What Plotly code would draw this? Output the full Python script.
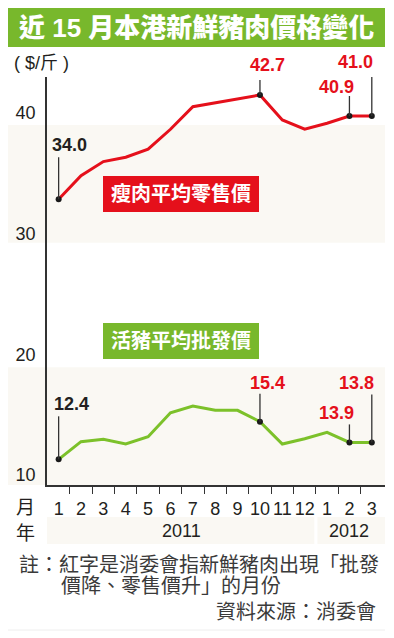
import plotly.graph_objects as go

# ---- data ----
months = ["1", "2", "3", "4", "5", "6", "7", "8", "9", "10", "11", "12", "1", "2", "3"]
years = ["2011", "2012"]
retail_lean = [32.85, 34.8, 35.97, 36.33, 37.0, 38.65, 40.52, 40.85, 41.16, 41.49,
               39.42, 38.65, 39.15, 39.75, 39.75]
wholesale_live = [11.3, 12.76, 12.96, 12.57, 13.17, 15.16, 15.72, 15.36, 15.36, 14.42,
                  12.57, 13.0, 13.54, 12.7, 12.7]
retail_labels = {0: "34.0", 9: "42.7", 13: "40.9", 14: "41.0"}
wholesale_labels = {0: "12.4", 9: "15.4", 13: "13.9", 14: "13.8"}
black_label_idx = [0]
yticks = [10, 20, 30, 40]

RED = "#e5101b"
GREEN_LINE = "#7cc12a"
GREEN_BAR = "#78b82c"
BEIGE = "#faf8f3"
DARK = "#231f20"
FONT = "Liberation Sans, Arial, Noto Sans CJK TC, sans-serif"

OFF = 8                      # page body margin
W, H = 394 - OFF, 638 - OFF  # figure size
L, R, T, B = 47, 385, 77, 485  # plot area in page pixels


def px(x):
    return (x - L) / (R - L)


def py(y):
    return (B - y) / (B - T)


x = list(range(len(months)))

fig = go.Figure()
fig.add_trace(go.Scatter(x=x, y=retail_lean, mode="lines",
                         line=dict(color=RED, width=3), hoverinfo="skip"))
fig.add_trace(go.Scatter(x=x, y=wholesale_live, mode="lines",
                         line=dict(color=GREEN_LINE, width=3), hoverinfo="skip"))

shapes = []
annotations = []


def note(text, xx, yy, size, color, xanchor="center", xref="paper", yref="paper",
         weight=None, **kw):
    f = dict(family=FONT, size=size, color=color)
    if weight:
        f["weight"] = weight
    annotations.append(dict(text=text, xref=xref, yref=yref, x=xx, y=yy, showarrow=False,
                            xanchor=xanchor, yanchor="middle", font=f, **kw))


# background bands
shapes.append(dict(type="rect", xref="paper", yref="y", x0=px(8), x1=1, y0=29.25, y1=39.0,
                   fillcolor=BEIGE, line_width=0, layer="below"))
shapes.append(dict(type="rect", xref="paper", yref="y", x0=px(8), x1=1, y0=9.171, y1=18.92,
                   fillcolor=BEIGE, line_width=0, layer="below"))

# title bar
shapes.append(dict(type="rect", xref="paper", yref="paper", x0=px(8), x1=px(385),
                   y0=py(47), y1=py(8), fillcolor=GREEN_BAR, line_width=0))
note("近 15 月本港新鮮豬肉價格變化", px(196), py(28), 26, "white", weight=900)
note("( $/斤 )", px(12), py(63), 18, DARK, xanchor="left")

# series label boxes
for (txt, col, yc) in [("瘦肉平均零售價", RED, 194), ("活豬平均批發價", GREEN_BAR, 341)]:
    shapes.append(dict(type="rect", xref="paper", yref="paper", x0=px(103), x1=px(259),
                       y0=py(yc + 18), y1=py(yc - 18), fillcolor=col, line_width=0))
    note("<b>" + txt + "</b>", px(181), py(yc), 20, "white")

# value labels, leader lines, dots
offsets_r = {0: (11, 54, 42), 9: (8, 30, 15), 13: (-13, 29, 20), 14: (-16, 54, 43)}
offsets_g = {0: (13, 55, 43), 9: (8, 39, 28), 13: (-13, 29, 18), 14: (-15, 59, 48)}
dot_x, dot_y = [], []
for series, labels, offs in [(retail_lean, retail_labels, offsets_r),
                             (wholesale_live, wholesale_labels, offsets_g)]:
    for i, txt in labels.items():
        dx, dy, ln = offs[i]
        col = DARK if i in black_label_idx else RED
        note("<b>" + txt + "</b>", i, series[i], 18, col, xref="x", yref="y",
             xshift=dx, yshift=dy)
        shapes.append(dict(type="line", xref="x", yref="y", ysizemode="pixel",
                           yanchor=series[i], x0=i, x1=i, y0=0, y1=ln,
                           line=dict(color="#333333", width=1.3)))
        dot_x.append(i)
        dot_y.append(series[i])
fig.add_trace(go.Scatter(x=dot_x, y=dot_y, mode="markers",
                         marker=dict(color="#1a1a1a", size=6), hoverinfo="skip"))

# year band
year_spans = [(-0.52, 11.43, 5.5, years[0]), (11.57, 14.59, 13.0, years[1])]
for x0, x1, xc, yr in year_spans:
    shapes.append(dict(type="rect", xref="x", yref="paper", x0=x0, x1=x1,
                       y0=py(544), y1=py(517), fillcolor=BEIGE, line_width=0))
    note(yr, xc, py(531), 18, DARK, xref="x")
note("月", px(25), py(507), 19, DARK)
note("年", px(25), py(533), 19, DARK)

# footnotes
foot = [("註：紅字是消委會指新鮮豬肉出現「批發", 17, 565, "left"),
        ("價降、零售價升」的月份", 59, 586, "left"),
        ("資料來源：消委會", 378, 612, "right")]
for txt, xx, yy, anc in foot:
    note(txt, px(xx), py(yy), 20, "#3a3a3a", xanchor=anc)
shapes.append(dict(type="line", xref="paper", yref="paper", x0=px(8), x1=px(385),
                   y0=py(630), y1=py(630), line=dict(color="#eeeeee", width=1)))

fig.update_layout(
    width=W, height=H, showlegend=False,
    margin=dict(l=L - OFF, r=W - (R - OFF), t=T - OFF, b=H - (B - OFF), pad=0),
    paper_bgcolor="white", plot_bgcolor="rgba(0,0,0,0)",
    shapes=shapes, annotations=annotations,
    xaxis=dict(range=[-0.52, 14.59], tickmode="array", tickvals=x, ticktext=months,
               ticks="", showgrid=False, zeroline=False, showline=True,
               linecolor="#333333", linewidth=1.5, ticklabelstandoff=7,
               tickfont=dict(family=FONT, size=18, color=DARK),
               minor=dict(tickmode="array", tickvals=[i + 0.5 for i in x[:-1]],
                          ticks="outside", ticklen=7, tickwidth=1.3, tickcolor="#333333",
                          showgrid=False)),
    yaxis=dict(range=[9.171, 42.98], tickmode="array", tickvals=yticks,
               ticktext=[str(v) for v in yticks], ticks="", showgrid=False,
               zeroline=False, showline=True, linecolor="#333333", linewidth=1.5,
               ticklabelstandoff=6, tickfont=dict(family=FONT, size=18, color=DARK)),
)

fig.write_html("out.html")
